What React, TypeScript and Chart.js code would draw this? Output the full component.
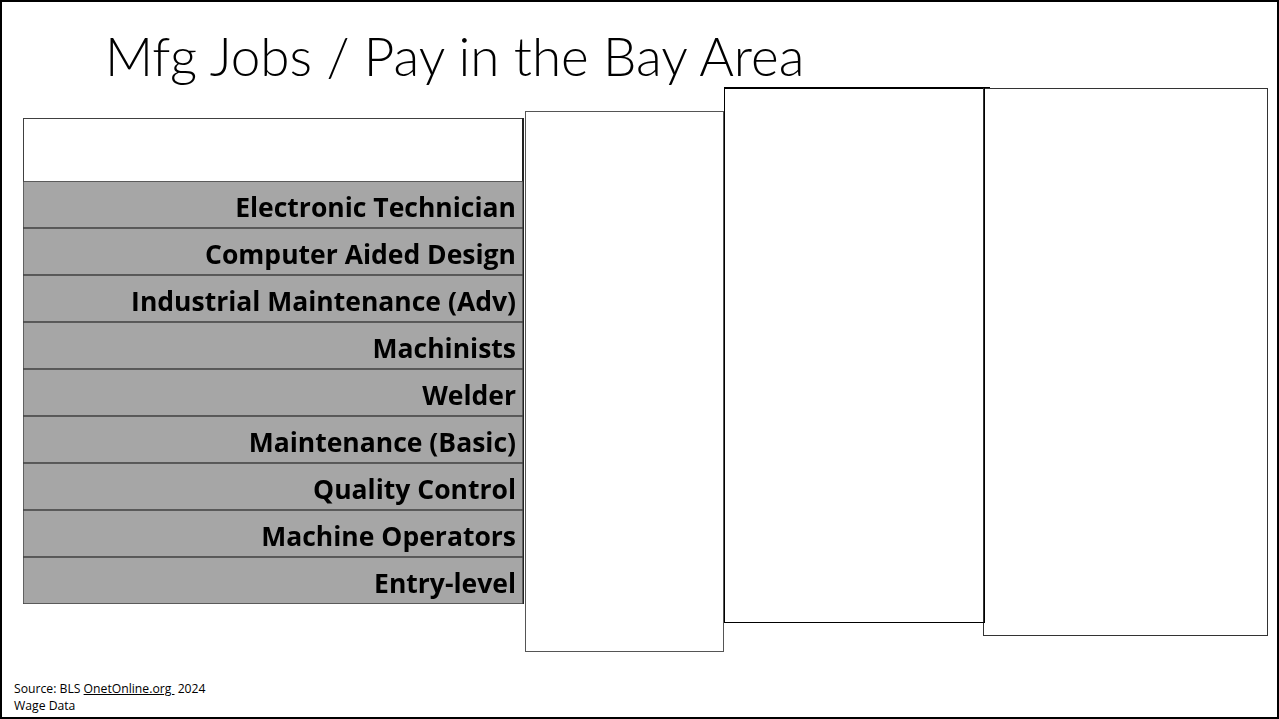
import React, { useEffect, useRef } from "react";
import { Chart, registerables } from "chart.js";

Chart.register(...registerables);

const TITLE = "Mfg Jobs / Pay in the Bay Area";
const jobTitles = [
  "Electronic Technician",
  "Computer Aided Design",
  "Industrial Maintenance (Adv)",
  "Machinists",
  "Welder",
  "Maintenance (Basic)",
  "Quality Control",
  "Machine Operators",
  "Entry-level",
];
// each table row spans the full width of the label column
const rowSpan = [1, 1, 1, 1, 1, 1, 1, 1, 1];
const sourcePrefix = "Source: BLS ";
const sourceLink = "OnetOnline.org\u00a0";
const sourceSuffix = " 2024";
const sourceLine2 = "Wage Data";

const rowLabelPlugin = {
  id: "rowLabels",
  afterDatasetsDraw(chart: any) {
    const ctx = chart.ctx;
    const meta = chart.getDatasetMeta(0);
    ctx.save();
    ctx.font = "bold 26.5px 'Open Sans', Lato, sans-serif";
    ctx.fillStyle = "#000";
    ctx.textAlign = "right";
    ctx.textBaseline = "alphabetic";
    meta.data.forEach((el: any, i: number) => {
      ctx.fillText(String(chart.data.labels[i]), el.x - 7, el.y + 12);
    });
    ctx.restore();
  },
};

export default function App() {
  const canvasRef = useRef<HTMLCanvasElement | null>(null);

  useEffect(() => {
    if (!canvasRef.current) return;
    const chart = new Chart(canvasRef.current, {
      type: "bar",
      data: {
        labels: jobTitles,
        datasets: [
          {
            data: rowSpan,
            backgroundColor: "#a6a6a6",
            borderColor: "#404040",
            borderWidth: 1,
            borderSkipped: false,
            barPercentage: 1,
            categoryPercentage: 1,
          },
        ],
      },
      options: {
        indexAxis: "y",
        responsive: false,
        animation: false,
        layout: { padding: 0 },
        plugins: {
          legend: { display: false },
          tooltip: { enabled: false },
          title: { display: false },
        },
        scales: {
          x: { display: false, min: 0, max: 1 },
          y: { display: false },
        },
      },
      plugins: [rowLabelPlugin],
    });
    return () => chart.destroy();
  }, []);

  const abs = (l: number, t: number, w: number, h: number, extra: any = {}) => ({
    position: "absolute" as const,
    left: l,
    top: t,
    width: w,
    height: h,
    boxSizing: "border-box" as const,
    ...extra,
  });

  return (
    <div
      style={{
        position: "fixed",
        left: 0,
        top: 0,
        width: 1279,
        height: 719,
        background: "#fff",
        border: "2px solid #000",
        boxSizing: "border-box",
        overflow: "hidden",
        fontFamily: "Lato, 'Open Sans', sans-serif",
      }}
    >
      <div
        style={{
          position: "absolute",
          left: 103,
          top: 22,
          fontSize: 53,
          fontWeight: 300,
          lineHeight: "normal",
          color: "#000",
          whiteSpace: "nowrap",
        }}
      >
        {TITLE}
      </div>

      {/* header row of the table */}
      <div style={abs(21, 116, 501, 64, { border: "1px solid #404040", background: "#fff" })} />
      {/* table right double line */}
      <div style={abs(520, 116, 2, 486, { background: "#222" })} />

      <div style={abs(21, 179, 500, 423)}>
        <canvas ref={canvasRef} width={500} height={423} style={{ display: "block" }} />
      </div>

      {/* empty columns */}
      <div style={abs(523, 109, 199, 541, { border: "1px solid #555" })} />
      <div style={abs(722, 85, 266, 1.5, { background: "#000" })} />
      <div style={abs(981, 86, 285, 548, { border: "1px solid #333" })} />
      <div style={abs(722, 85, 261, 536, { border: "1.5px solid #000" })} />

      <div
        style={{
          position: "absolute",
          left: 12,
          top: 678,
          fontSize: 12.2,
          lineHeight: "17px",
          fontFamily: "'Open Sans', sans-serif",
          color: "#000",
          whiteSpace: "nowrap",
        }}
      >
        <div>
          {sourcePrefix}
          <span style={{ textDecoration: "underline" }}>{sourceLink}</span>
          {sourceSuffix}
        </div>
        <div>{sourceLine2}</div>
      </div>
    </div>
  );
}
